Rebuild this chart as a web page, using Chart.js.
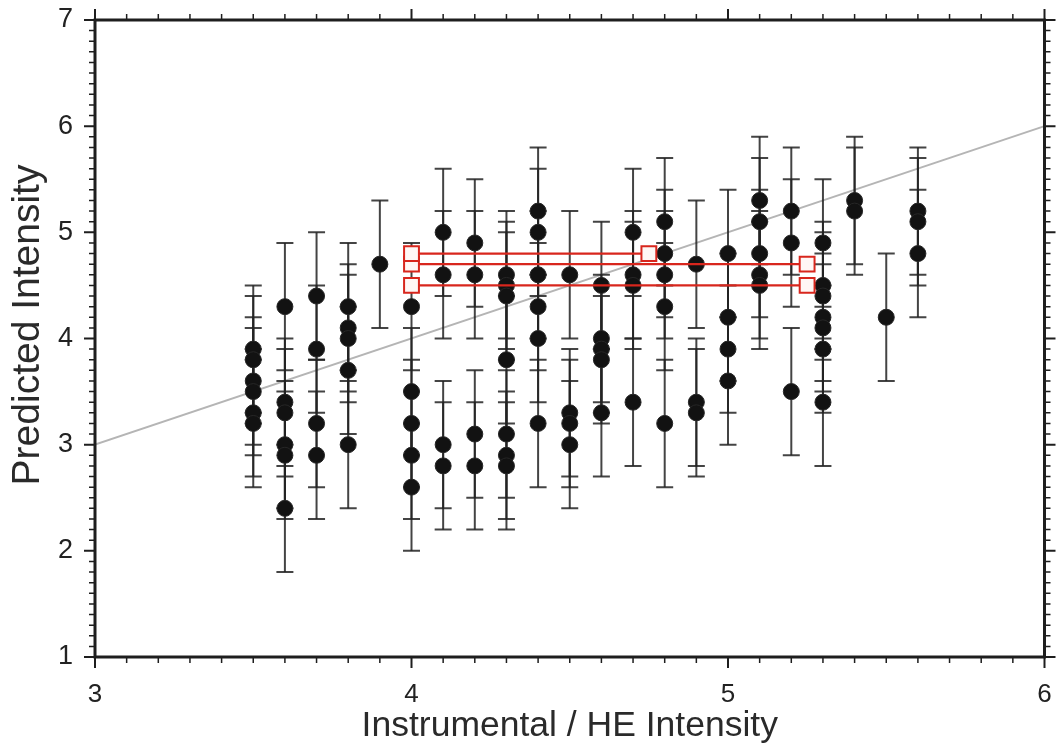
<!DOCTYPE html>
<html>
<head>
<meta charset="utf-8">
<script src="https://cdn.jsdelivr.net/npm/chart.js@4.4.1/dist/chart.umd.min.js"></script>
<style>
  html, body { margin: 0; padding: 0; background: #fff; }
</style>
</head>
<body>
<canvas id="chart" width="1057" height="749"></canvas>
<script>
// columns of measurements (x) and the predicted values in each column (y)
var xCols = [3.5, 3.6, 3.7, 3.8, 3.9, 4.0, 4.1, 4.2, 4.3, 4.4, 4.5,
             4.6, 4.7, 4.8, 4.9, 5.0, 5.1, 5.2, 5.3, 5.4, 5.5, 5.6];
var yCols = [
  [3.9, 3.8, 3.6, 3.5, 3.3, 3.2],
  [4.3, 3.4, 3.3, 3.0, 2.9, 2.4],
  [4.4, 3.9, 3.2, 2.9],
  [4.3, 4.1, 4.0, 3.7, 3.0],
  [4.7],
  [4.3, 3.5, 3.2, 2.9, 2.6],
  [5.0, 4.6, 3.0, 2.8],
  [4.9, 4.6, 3.1, 2.8],
  [4.6, 4.5, 4.4, 3.8, 3.1, 2.9, 2.8],
  [5.2, 5.0, 4.6, 4.3, 4.0, 3.2],
  [4.6, 3.3, 3.2, 3.0],
  [4.5, 4.0, 3.9, 3.8, 3.3],
  [5.0, 4.6, 4.5, 3.4],
  [5.1, 4.8, 4.6, 4.3, 3.2],
  [4.7, 3.4, 3.3],
  [4.8, 4.2, 3.9, 3.6],
  [5.3, 5.1, 4.8, 4.6, 4.5],
  [5.2, 4.9, 3.5],
  [4.9, 4.5, 4.4, 4.2, 4.1, 3.9, 3.4],
  [5.3, 5.2],
  [4.2],
  [5.2, 5.1, 4.8]
];
var errHalf = 0.6;

// 1:1 line
var fitX = [3, 6];
var fitY = [3, 6];

// red open-square ranges
var redStartX = [4.0, 4.0, 4.0];
var redEndX = [4.75, 5.25, 5.25];
var redLevels = [4.8, 4.7, 4.5];

var xMin = 3, xMax = 6, yMin = 1, yMax = 7;

var points = [];
for (var i = 0; i < xCols.length; i++) {
  for (var j = 0; j < yCols[i].length; j++) {
    points.push({ x: xCols[i], y: yCols[i][j] });
  }
}

var RED = "#d8261d";
var FONT = "Liberation Sans, Arial, sans-serif";
var datasets = [];
for (var k = 0; k < redLevels.length; k++) {
  datasets.push({
    label: "range" + k,
    data: [{ x: redStartX[k], y: redLevels[k] }, { x: redEndX[k], y: redLevels[k] }],
    showLine: true,
    borderColor: RED,
    borderWidth: 2.2,
    pointStyle: "rect",
    pointRadius: 10.5,
    pointBackgroundColor: "#fff7f5",
    pointBorderColor: RED,
    pointBorderWidth: 2
  });
}
var dotsIndex = datasets.length;
datasets.push({
  label: "obs",
  data: points,
  pointRadius: 8,
  pointBackgroundColor: "#121212",
  pointBorderColor: "#262626",
  pointBorderWidth: 1
});
datasets.push({
  label: "fit",
  data: [{ x: fitX[0], y: fitY[0] }, { x: fitX[1], y: fitY[1] }],
  showLine: true,
  borderColor: "#b5b5b5",
  borderWidth: 2,
  pointRadius: 0
});

// error bars under the black dots
var errorBars = {
  id: "errorBars",
  beforeDatasetDraw: function (chart, args) {
    if (args.index !== dotsIndex) return;
    var ctx = chart.ctx, xs = chart.scales.x, ys = chart.scales.y;
    ctx.save();
    ctx.strokeStyle = "rgba(35,35,35,0.85)";
    points.forEach(function (p) {
      var px = xs.getPixelForValue(p.x);
      var top = ys.getPixelForValue(p.y + errHalf);
      var bot = ys.getPixelForValue(p.y - errHalf);
      ctx.lineWidth = 2;
      ctx.beginPath();
      ctx.moveTo(px, top); ctx.lineTo(px, bot);
      ctx.stroke();
      ctx.lineWidth = 2;
      ctx.beginPath();
      ctx.moveTo(px - 8.5, top); ctx.lineTo(px + 8.5, top);
      ctx.moveTo(px - 8.5, bot); ctx.lineTo(px + 8.5, bot);
      ctx.stroke();
    });
    ctx.restore();
  }
};

// box frame with outward ticks on all four sides, plus the y title
var frame = {
  id: "frame",
  afterDraw: function (chart) {
    var ctx = chart.ctx, ca = chart.chartArea;
    var xs = chart.scales.x, ys = chart.scales.y;
    ctx.save();
    ctx.strokeStyle = "#1e1e1e";
    var i, v, p, len;
    for (i = xMin * 10; i <= xMax * 10; i++) {
      v = i / 10; p = xs.getPixelForValue(v);
      len = i % 10 === 0 ? 11 : 6;
      ctx.lineWidth = i % 10 === 0 ? 2 : 1.5;
      ctx.beginPath();
      ctx.moveTo(p, ca.bottom); ctx.lineTo(p, ca.bottom + len);
      ctx.moveTo(p, ca.top); ctx.lineTo(p, ca.top - len);
      ctx.stroke();
    }
    for (i = yMin * 10; i <= yMax * 10; i++) {
      v = i / 10; p = ys.getPixelForValue(v);
      len = i % 10 === 0 ? 11 : 6;
      ctx.lineWidth = i % 10 === 0 ? 2 : 1.5;
      ctx.beginPath();
      ctx.moveTo(ca.left, p); ctx.lineTo(ca.left - len, p);
      ctx.moveTo(ca.right, p); ctx.lineTo(ca.right + len, p);
      ctx.stroke();
    }
    ctx.lineWidth = 3;
    ctx.strokeRect(ca.left, ca.top, ca.right - ca.left, ca.bottom - ca.top);

    // y title
    ctx.translate(28, 325);
    ctx.rotate(-Math.PI / 2);
    ctx.fillStyle = "#2a2a2a";
    ctx.font = "39px " + FONT;
    ctx.textAlign = "center";
    ctx.textBaseline = "middle";
    ctx.fillText("Predicted Intensity", 0, 0);
    ctx.restore();
  }
};

new Chart(document.getElementById("chart"), {
  type: "scatter",
  data: { datasets: datasets },
  options: {
    responsive: false,
    animation: false,
    devicePixelRatio: 1,
    layout: { padding: { top: 20, right: 12, left: 0, bottom: 0 } },
    plugins: { legend: { display: false }, tooltip: { enabled: false } },
    scales: {
      x: {
        type: "linear",
        min: xMin,
        max: xMax,
        grid: { display: false },
        border: { display: false },
        ticks: {
          stepSize: 1,
          padding: 14,
          color: "#222",
          font: { family: FONT, size: 26 }
        },
        title: {
          display: true,
          text: "Instrumental / HE Intensity",
          color: "#2a2a2a",
          padding: { top: 0, bottom: 1 },
          font: { family: FONT, size: 35.5 }
        },
        afterFit: function (s) {
          s.height = 92;
          s.paddingLeft = 0; s.paddingRight = 0;
        }
      },
      y: {
        type: "linear",
        min: yMin,
        max: yMax,
        grid: { display: false },
        border: { display: false },
        ticks: {
          stepSize: 1,
          padding: 14,
          color: "#222",
          font: { family: FONT, size: 27 }
        },
        afterFit: function (s) {
          s.width = 95;
          s.paddingTop = 0; s.paddingBottom = 0;
        }
      }
    }
  },
  plugins: [errorBars, frame]
});
</script>
</body>
</html>
